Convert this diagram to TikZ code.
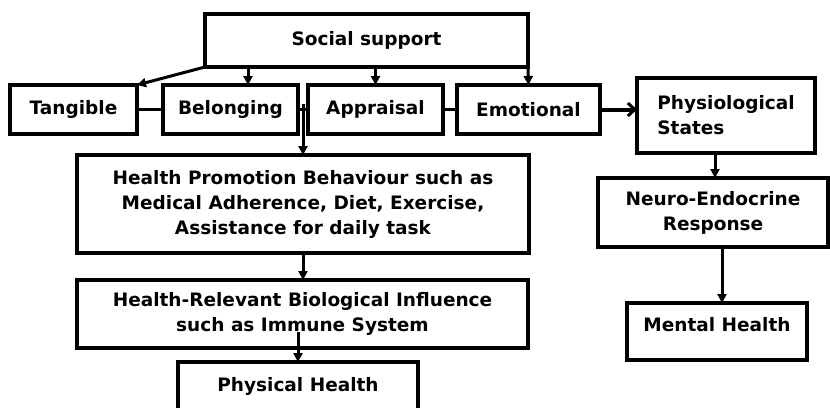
\documentclass[tikz,border=0pt]{standalone}
\usepackage{fontspec}
\setmainfont{DejaVu Sans}
\usetikzlibrary{arrows.meta, positioning, calc}

\begin{document}
\begin{tikzpicture}[
    x=1pt, y=-1pt,
    >={Triangle[width=9pt,length=9pt]},
    every node/.style={font=\bfseries\fontsize{18.5}{25}\selectfont},
    box/.style ={draw, line width=3.5pt, align=center, inner sep=0pt,
                 outer sep=0pt},
    kind/.style={box, minimum height=49pt},
    link/.style={line width=3pt},
    flow/.style={->, line width=3pt},
    bigflow/.style={-{Straight Barb[width=13pt,length=7pt,line width=3pt]},
                 line width=4pt},
]
\useasboundingbox (0,0) rectangle (830,407);
\node[box, minimum width=323pt, minimum height=53pt] (social) at (366.5,40.5) {Social support};
% the four kinds of support in one row
\node[kind, minimum width=127pt] (tang) at (73.5,109.5) {Tangible};
\node[kind, minimum width=135pt, right=26pt of tang]   (belong) {Belonging};
\node[kind, minimum width=135pt, right=10pt of belong] (appr)   {Appraisal};
\node[kind, minimum width=143pt, right=14pt of appr]   (emo)    {Emotional};
% left branch
\node[box, minimum width=452pt, minimum height=98pt] (hp) at (303,204)
      {Health Promotion Behaviour such as\\
       Medical Adherence, Diet, Exercise,\\
       Assistance for daily task};
\node[box, minimum width=451pt, minimum height=68pt] (hr) at (302.5,314)
      {Health-Relevant Biological Influence\\
       such as Immune System};
\node[box, minimum width=240pt, minimum height=48pt] (phys) at (298,386) {Physical Health};
% right branch
\node[box, align=left, minimum width=178pt, minimum height=75pt] (physio) at (726,115.5)
      {Physiological\\States};
\node[box, minimum width=230pt, minimum height=69pt] (neuro) at (713,212.5)
      {Neuro-Endocrine\\Response};
\node[box, minimum width=180pt, minimum height=57pt, text depth=15pt] (mental) at (717,331.5)
      {Mental Health};

\draw[flow] (social.south west) -- (tang.north east);
\draw[flow] ([xshift=-118.5pt]social.south) -- ([xshift=17.5pt]belong.north);
\draw[flow] ([xshift=9pt]social.south) -- (appr.north);
\draw[flow] (social.south east) -- (emo.north);
\draw[link] (tang.east) -- (belong.west);
\draw[link] (belong.east) -- (appr.west);
\draw[link] (appr.east) -- (emo.west);
\draw[bigflow] (emo.east) -- (emo.east -| physio.west);
% belonging feeds the behaviour box
\coordinate (bj) at ($(belong.east)!0.5!(appr.west)$);
\draw[flow] ([yshift=6pt]bj) -- (bj |- hp.north);
\draw[flow] (hp.south) -- (hp.south |- hr.north);
\draw[flow] (phys.north |- hr.center) ++(0,18) -- (phys.north);
\draw[flow] ([xshift=-11pt]physio.south) -- ([xshift=-11pt]physio.south |- neuro.north);
\draw[flow] ([xshift=9pt]neuro.south) -- ([xshift=9pt]neuro.south |- mental.north);
\end{tikzpicture}
\end{document}
